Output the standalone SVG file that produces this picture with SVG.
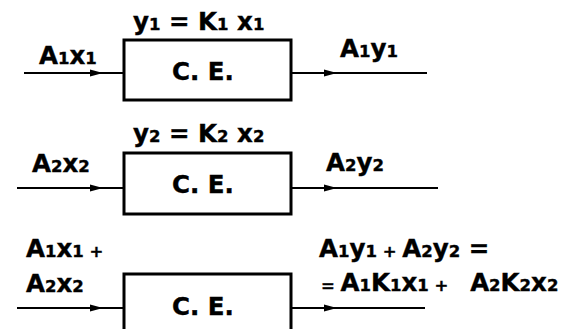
<svg xmlns="http://www.w3.org/2000/svg" width="565" height="329" viewBox="0 0 565 329">
<style>
text{font-family:"DejaVu Sans","Liberation Sans",sans-serif;font-weight:bold;font-size:24.5px;fill:#000;stroke:#000;stroke-width:0.4}
.s{font-size:16.5px}
.box{fill:#fff;stroke:#000;stroke-width:3}
.ln{stroke:#000;stroke-width:2;fill:none}
</style>
<defs>
<marker id="ah" markerWidth="13" markerHeight="8" refX="13" refY="4" orient="auto" markerUnits="userSpaceOnUse">
<path d="M0,0.5 L13,4 L0,7.5 Z" fill="#000"/>
</marker>
</defs>
<g id="connectors">
<path class="ln" d="M24,73 H103" marker-end="url(#ah)"/>
<path class="ln" d="M103,73 H124"/>
<path class="ln" d="M291,73 H337" marker-end="url(#ah)"/>
<path class="ln" d="M337,73 H427"/>
<path class="ln" d="M17,188 H103" marker-end="url(#ah)"/>
<path class="ln" d="M103,188 H124"/>
<path class="ln" d="M291,188 H337" marker-end="url(#ah)"/>
<path class="ln" d="M337,188 H438"/>
<path class="ln" d="M17,308 H103" marker-end="url(#ah)"/>
<path class="ln" d="M103,308 H124"/>
<path class="ln" d="M291,308 H337" marker-end="url(#ah)"/>
<path class="ln" d="M337,308 H425"/>
</g>
<g id="node1">
<rect class="box" x="124" y="40" width="167" height="60"/>
<text x="172" y="80">C. E.</text>
<text x="133" y="30">y<tspan class="s">1</tspan> = K<tspan class="s">1</tspan> x<tspan class="s">1</tspan></text>
<text x="39" y="64">A<tspan class="s">1</tspan>x<tspan class="s">1</tspan></text>
<text x="340" y="57">A<tspan class="s">1</tspan>y<tspan class="s">1</tspan></text>
</g>
<g id="node2">
<rect class="box" x="124" y="153" width="167" height="61"/>
<text x="172" y="193">C. E.</text>
<text x="133" y="142">y<tspan class="s">2</tspan> = K<tspan class="s">2</tspan> x<tspan class="s">2</tspan></text>
<text x="32" y="172">A<tspan class="s">2</tspan>x<tspan class="s">2</tspan></text>
<text x="326" y="171">A<tspan class="s">2</tspan>y<tspan class="s">2</tspan></text>
</g>
<g id="node3">
<path class="box" d="M124,332 V274 H291 V332"/>
<text x="172" y="315">C. E.</text>
<text x="26" y="257">A<tspan class="s">1</tspan>x<tspan class="s">1 +</tspan></text>
<text x="26" y="292">A<tspan class="s">2</tspan>x<tspan class="s">2</tspan></text>
<text x="319" y="257">A<tspan class="s">1</tspan>y<tspan class="s">1 + </tspan>A<tspan class="s">2</tspan>y<tspan class="s">2</tspan> =</text>
<text x="321" y="291"><tspan class="s">= </tspan>A<tspan class="s">1</tspan>K<tspan class="s">1</tspan>x<tspan class="s">1 + </tspan><tspan dx="16">A</tspan><tspan class="s">2</tspan>K<tspan class="s">2</tspan>x<tspan class="s">2</tspan></text>
</g>
</svg>
